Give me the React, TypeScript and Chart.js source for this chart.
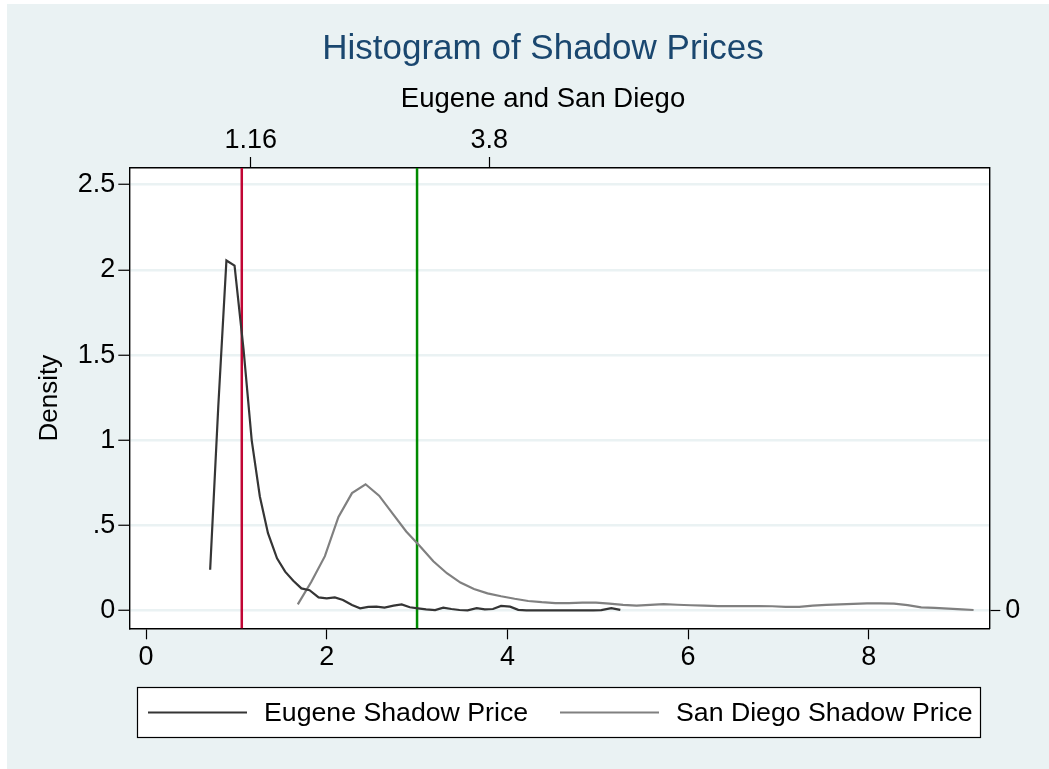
import React, { useEffect, useRef } from "react";
import { Chart, registerables } from "chart.js";

Chart.register(...registerables);

// ---------- data ----------
const seriesLabels = ["Eugene Shadow Price", "San Diego Shadow Price"];

const eugeneX = [
  0.71, 0.8, 0.89, 0.98, 1.08, 1.17, 1.26, 1.35, 1.45, 1.54,
  1.63, 1.72, 1.81, 1.91, 2.0, 2.09, 2.18, 2.28, 2.37, 2.46,
  2.55, 2.64, 2.74, 2.83, 2.92, 3.01, 3.1, 3.2, 3.29, 3.38,
  3.47, 3.56, 3.66, 3.75, 3.84, 3.93, 4.03, 4.12, 4.21, 4.3,
  4.4, 4.49, 4.58, 4.67, 4.76, 4.86, 4.95, 5.04, 5.15, 5.25,
];
const eugeneY = [
  0.24, 1.2, 2.055, 2.025, 1.53, 1.0, 0.67, 0.455, 0.307, 0.229,
  0.176, 0.131, 0.12, 0.078, 0.072, 0.078, 0.063, 0.033, 0.014, 0.022,
  0.024, 0.018, 0.03, 0.037, 0.02, 0.014, 0.008, 0.004, 0.018, 0.01,
  0.004, 0.002, 0.015, 0.008, 0.01, 0.028, 0.024, 0.005, 0.002, 0.002,
  0.002, 0.002, 0.002, 0.002, 0.002, 0.002, 0.002, 0.003, 0.015, 0.005,
];

const sanDiegoX = [
  1.68, 1.83, 1.98, 2.13, 2.28, 2.43, 2.58, 2.73, 2.88, 3.03,
  3.18, 3.33, 3.48, 3.63, 3.78, 3.93, 4.08, 4.23, 4.38, 4.53,
  4.68, 4.83, 4.98, 5.13, 5.28, 5.43, 5.58, 5.73, 5.88, 6.03,
  6.18, 6.33, 6.48, 6.63, 6.78, 6.93, 7.08, 7.23, 7.38, 7.53,
  7.68, 7.83, 7.98, 8.13, 8.28, 8.43, 8.58, 8.73, 8.88, 9.03,
  9.16,
];
const sanDiegoY = [
  0.037, 0.17, 0.32, 0.55, 0.69, 0.742, 0.675, 0.57, 0.465, 0.38,
  0.29, 0.22, 0.165, 0.127, 0.102, 0.085, 0.07, 0.057, 0.05, 0.045,
  0.044, 0.047, 0.047, 0.042, 0.034, 0.03, 0.034, 0.038, 0.035, 0.032,
  0.03, 0.027, 0.027, 0.027, 0.027, 0.026, 0.022, 0.022, 0.03, 0.034,
  0.037, 0.04, 0.043, 0.043, 0.041, 0.033, 0.02, 0.016, 0.012, 0.008,
  0.004,
];

const xTicks = [0, 2, 4, 6, 8];
const xTickLabels = ["0", "2", "4", "6", "8"];
const yTicks = [0, 0.5, 1, 1.5, 2, 2.5];
const yTickLabels = ["0", ".5", "1", "1.5", "2", "2.5"];
const topTicks = [1.16, 3.8];
const topTickLabels = ["1.16", "3.8"];
const rightTicks = [0];
const rightTickLabels = ["0"];
const refLineValues = [1.06, 3.0];

const xRange = [-0.185, 9.334];
const yRange = [-0.1033, 2.598];

// ---------- styles ----------
const FONT = "'Liberation Sans', Arial, Helvetica, sans-serif";
const BG = "#EAF2F3";
const seriesColors = ["#353535", "#808080"];
const refLineColors = ["#C10534", "#008A00"];
const TICK_SIZE = 27;
const LEGEND_SIZE = 26.7;

const labelFor = (ticks: number[], labels: string[]) => (v: number | string) => {
  const i = ticks.findIndex((t) => Math.abs(t - Number(v)) < 1e-9);
  return i >= 0 ? labels[i] : "";
};

const plotBgPlugin = {
  id: "plotBg",
  beforeDraw(chart: any) {
    const { ctx, chartArea } = chart;
    ctx.save();
    ctx.fillStyle = "#ffffff";
    ctx.fillRect(chartArea.left, chartArea.top, chartArea.right - chartArea.left, chartArea.bottom - chartArea.top);
    ctx.restore();
  },
};

const refLinesPlugin = {
  id: "refLines",
  beforeDatasetsDraw(chart: any) {
    const { ctx, chartArea, scales } = chart;
    ctx.save();
    refLineValues.forEach((v, i) => {
      const px = scales.x.getPixelForValue(v);
      ctx.strokeStyle = refLineColors[i];
      ctx.lineWidth = 2.5;
      ctx.beginPath();
      ctx.moveTo(px, chartArea.top);
      ctx.lineTo(px, chartArea.bottom);
      ctx.stroke();
    });
    ctx.restore();
  },
};

const boxLegendPlugin = {
  id: "boxLegend",
  afterDraw(chart: any) {
    const { ctx } = chart;
    const box = { x: 130.5, y: 683.5, w: 843, h: 50 };
    const itemStarts = [141, 553];
    ctx.save();
    ctx.fillStyle = "#ffffff";
    ctx.fillRect(box.x, box.y, box.w, box.h);
    ctx.strokeStyle = "#000000";
    ctx.lineWidth = 1.2;
    ctx.strokeRect(box.x, box.y, box.w, box.h);
    const cy = box.y + box.h / 2;
    chart.data.datasets.forEach((ds: any, i: number) => {
      const x0 = itemStarts[i];
      ctx.strokeStyle = ds.borderColor;
      ctx.lineWidth = 2.2;
      ctx.beginPath();
      ctx.moveTo(x0, cy);
      ctx.lineTo(x0 + 99, cy);
      ctx.stroke();
      ctx.fillStyle = "#000000";
      ctx.font = `${LEGEND_SIZE}px ${FONT}`;
      ctx.textBaseline = "middle";
      ctx.textAlign = "left";
      ctx.fillText(ds.label, x0 + 116, cy + 1);
    });
    ctx.restore();
  },
};

export default function App() {
  const canvasRef = useRef<HTMLCanvasElement | null>(null);

  useEffect(() => {
    if (!canvasRef.current) return;
    const tickFont = { family: FONT, size: TICK_SIZE, weight: "normal" as const, lineHeight: 1.2 };
    const axisBorder = { color: "#000000", width: 1.4 };
    const tickGrid = { drawOnChartArea: false, tickLength: 11, tickColor: "#000000", tickWidth: 1.2 };

    const chart = new Chart(canvasRef.current, {
      type: "line",
      data: {
        datasets: [
          {
            label: seriesLabels[0],
            data: eugeneX.map((x, i) => ({ x, y: eugeneY[i] })),
            borderColor: seriesColors[0],
            borderWidth: 2.2,
            pointRadius: 0,
            tension: 0,
            fill: false,
            xAxisID: "x",
            yAxisID: "y",
          },
          {
            label: seriesLabels[1],
            data: sanDiegoX.map((x, i) => ({ x, y: sanDiegoY[i] })),
            borderColor: seriesColors[1],
            borderWidth: 2.2,
            pointRadius: 0,
            tension: 0,
            fill: false,
            xAxisID: "x",
            yAxisID: "y",
          },
        ],
      },
      options: {
        responsive: false,
        animation: false,
        events: [],
        layout: { padding: { left: 30, right: 0, top: 0, bottom: 90.7 } },
        plugins: {
          legend: { display: false },
          tooltip: { enabled: false },
          title: {
            display: true,
            text: "Histogram of Shadow Prices",
            color: "#1A476F",
            font: { family: FONT, size: 35, weight: "normal", lineHeight: 1.2 },
            padding: { top: 24, bottom: 0 },
          },
          subtitle: {
            display: true,
            text: "Eugene and San Diego",
            color: "#000000",
            font: { family: FONT, size: 27.5, weight: "normal", lineHeight: 1.2 },
            padding: { top: 12.5, bottom: 0 },
          },
        },
        scales: {
          x: {
            type: "linear",
            position: "bottom",
            min: xRange[0],
            max: xRange[1],
            afterBuildTicks: (s: any) => {
              s.ticks = xTicks.map((v) => ({ value: v }));
            },
            afterFit: (s: any) => {
              s.height = 50;
            },
            ticks: {
              font: tickFont,
              color: "#000000",
              padding: 2,
              maxRotation: 0,
              autoSkip: false,
              callback: labelFor(xTicks, xTickLabels),
            },
            grid: tickGrid,
            border: axisBorder,
          },
          x2: {
            type: "linear",
            position: "top",
            min: xRange[0],
            max: xRange[1],
            afterBuildTicks: (s: any) => {
              s.ticks = topTicks.map((v) => ({ value: v }));
            },
            afterFit: (s: any) => {
              s.height = 52.5;
            },
            ticks: {
              font: tickFont,
              color: "#000000",
              padding: 0,
              maxRotation: 0,
              autoSkip: false,
              callback: labelFor(topTicks, topTickLabels),
            },
            grid: tickGrid,
            border: axisBorder,
          },
          y: {
            type: "linear",
            position: "left",
            min: yRange[0],
            max: yRange[1],
            afterBuildTicks: (s: any) => {
              s.ticks = yTicks.map((v) => ({ value: v }));
            },
            afterFit: (s: any) => {
              s.width = 92.3;
            },
            ticks: {
              font: tickFont,
              color: "#000000",
              padding: 3,
              autoSkip: false,
              callback: labelFor(yTicks, yTickLabels),
            },
            grid: {
              drawOnChartArea: true,
              color: BG,
              lineWidth: 2.5,
              tickLength: 11,
              tickColor: "#000000",
              tickWidth: 1.2,
            },
            border: axisBorder,
            title: {
              display: true,
              text: "Density",
              color: "#000000",
              font: { family: FONT, size: 26, weight: "normal", lineHeight: 1 },
              padding: 0,
            },
          },
          y2: {
            type: "linear",
            position: "right",
            min: yRange[0],
            max: yRange[1],
            afterBuildTicks: (s: any) => {
              s.ticks = rightTicks.map((v) => ({ value: v }));
            },
            afterFit: (s: any) => {
              s.width = 59.7;
            },
            ticks: {
              font: tickFont,
              color: "#000000",
              padding: 5,
              autoSkip: false,
              callback: labelFor(rightTicks, rightTickLabels),
            },
            grid: tickGrid,
            border: axisBorder,
          },
        },
      },
      plugins: [plotBgPlugin, refLinesPlugin, boxLegendPlugin],
    });
    return () => chart.destroy();
  }, []);

  return (
    <div
      style={{
        position: "absolute",
        left: 7,
        top: 4,
        width: 1042,
        height: 765,
        background: BG,
        overflow: "hidden",
      }}
    >
      <canvas ref={canvasRef} width={1042} height={765} style={{ display: "block" }} />
    </div>
  );
}
